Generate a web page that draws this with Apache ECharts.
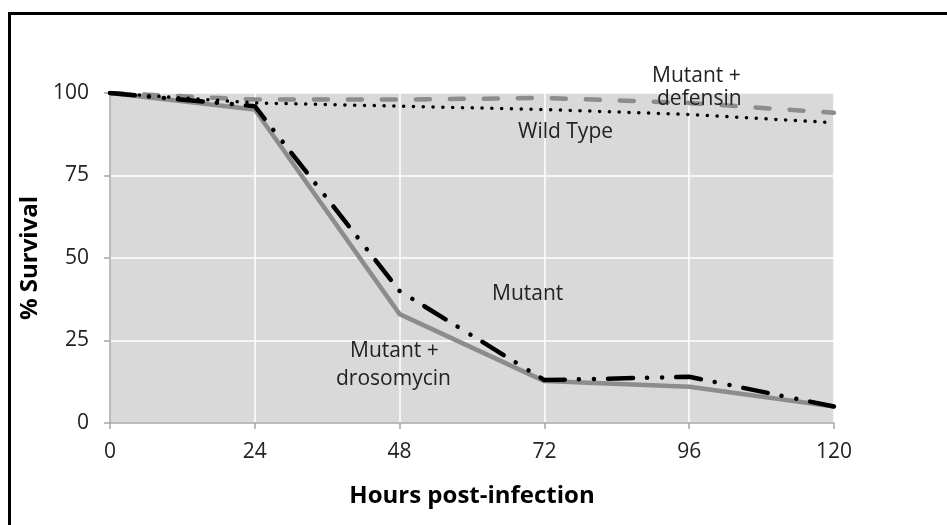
<!DOCTYPE html>
<html>
<head>
<meta charset="utf-8">
<script src="https://cdn.jsdelivr.net/npm/echarts@6/dist/echarts.min.js"></script>
<style>
  html, body { margin: 0; padding: 0; background: #fff; overflow: hidden; }
  #wrap { position: relative; width: 947px; height: 525px; overflow: hidden; }
  #main { position: absolute; left: 0; top: 0; width: 947px; height: 525px; }
  #frame { position: absolute; left: 8px; top: 12px; width: 1000px; height: 600px; border-top: 3px solid #000; border-left: 3px solid #000; pointer-events: none; }
</style>
</head>
<body>
<div id="wrap">
  <div id="main"></div>
  <div id="frame"></div>
</div>
<script>
// hours post-infection
var hours = [0, 24, 48, 72, 96, 120];
// % survival per group
var wildType = [100, 97, 96, 95, 93.5, 91];
var mutantDefensin = [100, 98, 98, 98.5, 97, 94];
var mutant = [100, 95, 33, 12.7, 11, 5];
var mutantDrosomycin = [100, 96, 40, 13, 14, 5];

function pairs(vals) {
    return hours.map(function (h, i) { return [h, vals[i]]; });
}

var chart = echarts.init(document.getElementById('main'));
var labelFont = '"Open Sans", "Noto Sans", sans-serif';

var option = {
    animation: false,
    backgroundColor: 'transparent',
    grid: { left: 110, right: 113, top: 93, bottom: 102, show: true, backgroundColor: '#d9d9d9', borderWidth: 0 },
    xAxis: {
        type: 'value', min: 0, max: 120, interval: 24,
        name: 'Hours post-infection', nameLocation: 'middle', nameGap: 61,
        nameTextStyle: { fontFamily: labelFont, fontWeight: 'bold', fontSize: 24, color: '#000' },
        axisLine: { lineStyle: { color: '#a6a6a6', width: 1.5 } },
        axisTick: { show: true, length: 6, lineStyle: { color: '#a6a6a6', width: 1.5 } },
        axisLabel: { fontFamily: labelFont, fontSize: 21, color: '#222', margin: 19 },
        splitLine: { show: true, lineStyle: { color: '#ffffff', width: 1.5 } }
    },
    yAxis: {
        type: 'value', min: 0, max: 100, interval: 25,
        name: '% Survival', nameLocation: 'middle', nameGap: 62,
        nameTextStyle: { fontFamily: labelFont, fontWeight: 'bold', fontSize: 24, color: '#000' },
        axisLine: { show: true, lineStyle: { color: '#a6a6a6', width: 1.5 } },
        axisTick: { show: true, length: 6, lineStyle: { color: '#a6a6a6', width: 1.5 } },
        axisLabel: { fontFamily: labelFont, fontSize: 21, color: '#222', margin: 21 },
        splitLine: { show: true, lineStyle: { color: '#ffffff', width: 1.5 } }
    },
    series: [
        {
            name: 'Mutant', type: 'line', symbol: 'none', z: 2,
            lineStyle: { color: '#8c8c8c', width: 4.5 },
            data: pairs(mutant)
        },
        {
            name: 'Mutant + drosomycin', type: 'line', symbol: 'none', z: 3,
            lineStyle: { color: '#000', width: 4.5, cap: 'round', type: [25, 14, 0.1, 15, 0.1, 14] },
            data: pairs(mutantDrosomycin)
        },
        {
            name: 'Mutant + defensin', type: 'line', symbol: 'none', z: 2,
            lineStyle: { color: '#8c8c8c', width: 4.5, cap: 'round', type: [14, 20] },
            data: pairs(mutantDefensin)
        },
        {
            name: 'Wild Type', type: 'line', symbol: 'none', z: 3,
            lineStyle: { color: '#000', width: 3.5, cap: 'round', type: [0.1, 9.7] },
            data: pairs(wildType)
        }
    ],
    graphic: [
        { type: 'text', left: 652, top: 66, z: 10, style: { text: 'Mutant +', font: '21px ' + labelFont, fill: '#222' } },
        { type: 'text', left: 657, top: 89, z: 10, style: { text: 'defensin', font: '21px ' + labelFont, fill: '#222' } },
        { type: 'text', left: 518, top: 122, z: 10, style: { text: 'Wild Type', font: '21px ' + labelFont, fill: '#222' } },
        { type: 'text', left: 492, top: 284, z: 10, style: { text: 'Mutant', font: '21px ' + labelFont, fill: '#222' } },
        { type: 'text', left: 350, top: 341, z: 10, style: { text: 'Mutant +', font: '21px ' + labelFont, fill: '#222' } },
        { type: 'text', left: 336, top: 369, z: 10, style: { text: 'drosomycin', font: '21px ' + labelFont, fill: '#222' } }
    ]
};

chart.setOption(option);
</script>
</body>
</html>
